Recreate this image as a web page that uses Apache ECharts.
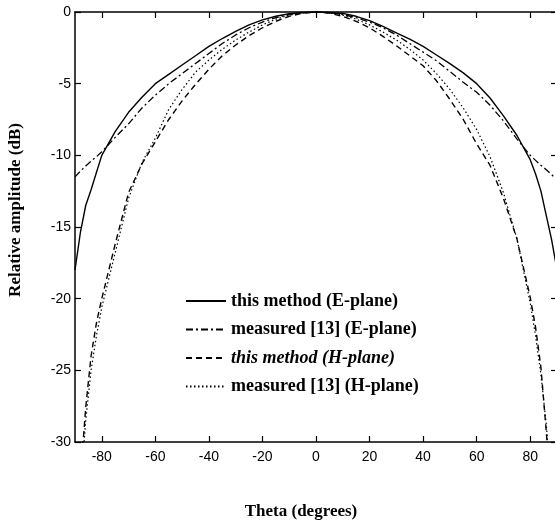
<!DOCTYPE html>
<html>
<head>
<meta charset="utf-8">
<title>Relative amplitude</title>
<script src="https://cdn.jsdelivr.net/npm/echarts@6/dist/echarts.min.js"></script>
<style>
  html, body { margin: 0; padding: 0; background: #fff; }
</style>
</head>
<body>
<div id="main" style="width: 555px;height: 524px"></div>
<script>
// theta (degrees)
var theta = [-90, -88, -86, -84, -82, -80, -75, -70, -65, -60, -55, -50, -45, -40, -35, -30, -25, -20, -15, -10, -5,
  0, 5, 10, 15, 20, 25, 30, 35, 40, 45, 50, 55, 60, 65, 70, 75, 80, 82, 84, 86, 88, 90];

// this method (E-plane)
var eMethod = [-18.0, -15.4, -13.5, -12.4, -11.2, -10.0, -8.35, -7.0, -5.95, -5.0, -4.35, -3.7, -3.05, -2.4, -1.85, -1.35, -0.9, -0.55, -0.3, -0.12, -0.03,
  0, -0.03, -0.1, -0.3, -0.6, -1.0, -1.45, -1.9, -2.4, -3.0, -3.6, -4.25, -5.0, -6.0, -7.25, -8.6, -10.3, -11.3, -12.5, -14.2, -15.9, -18.0];

// measured [13] (E-plane)
var eMeasured = [-11.5, -11.1, -10.75, -10.4, -10.1, -9.75, -8.75, -7.8, -6.7, -5.8, -5.0, -4.3, -3.6, -2.9, -2.2, -1.6, -1.1, -0.7, -0.4, -0.17, -0.04,
  0, -0.04, -0.17, -0.4, -0.7, -1.1, -1.6, -2.2, -2.8, -3.4, -4.15, -4.9, -5.6, -6.5, -7.6, -8.85, -10.0, -10.35, -10.7, -11.0, -11.35, -11.7];

// this method (H-plane)
var hMethod = [-38, -32.5, -27.6, -24.0, -21.7, -20.0, -16.2, -12.6, -10.6, -9.05, -7.5, -6.2, -5.05, -4.0, -3.05, -2.3, -1.65, -1.1, -0.65, -0.3, -0.08,
  0, -0.08, -0.3, -0.65, -1.1, -1.7, -2.35, -3.05, -3.75, -4.8, -6.1, -7.5, -9.2, -10.7, -13.0, -15.8, -19.9, -22.0, -24.8, -29.3, -34, -40];

// measured [13] (H-plane)
var hMeasured = [-40, -33.5, -28.5, -25.0, -22.6, -20.6, -16.8, -13.0, -10.5, -8.8, -6.8, -5.4, -4.2, -3.35, -2.6, -1.95, -1.4, -0.9, -0.5, -0.22, -0.06,
  0, -0.06, -0.22, -0.5, -0.9, -1.4, -1.95, -2.6, -3.35, -4.3, -5.4, -6.7, -8.2, -10.1, -12.6, -15.8, -20.3, -22.6, -25.3, -28.8, -33.5, -40];

var xTicks = [-80, -60, -40, -20, 0, 20, 40, 60, 80];

var names = ['this method (E-plane)', 'measured [13] (E-plane)', 'this method (H-plane)', 'measured [13] (H-plane)'];

function pairs(vals) {
  return theta.map(function (t, i) { return [t, vals[i]]; });
}

var serif = '"Liberation Serif", "Times New Roman", serif';
var sans = '"Liberation Sans", Arial, sans-serif';

let myChart = echarts.init(document.getElementById('main'));

let axisLine = { show: true, onZero: false, lineStyle: { color: '#000', width: 1.5 } };
let tick = { show: true, inside: true, length: 6, lineStyle: { color: '#000', width: 1.2 } };

let option = {
  backgroundColor: '#fff',
  animation: false,
  grid: {
    left: 75,
    top: 12,
    right: -2,
    bottom: 82,
    containLabel: false,
    outerBoundsMode: 'none'
  },
  legend: {
    orient: 'vertical',
    left: 185,
    top: 292,
    padding: 0,
    itemWidth: 40,
    itemHeight: 14,
    itemGap: 10.5,
    itemStyle: { opacity: 0 },
    textStyle: {
      fontFamily: serif,
      fontWeight: 'bold',
      fontSize: 18,
      color: '#000'
    },
    data: [
      { name: names[0] },
      { name: names[1] },
      { name: names[2], textStyle: { fontStyle: 'italic' } },
      { name: names[3] }
    ]
  },
  xAxis: [{
    type: 'value',
    min: -90,
    max: 90,
    position: 'bottom',
    name: 'Theta (degrees)',
    nameLocation: 'middle',
    nameGap: 61,
    nameTextStyle: {
      fontFamily: serif,
      fontWeight: 'bold',
      fontSize: 17,
      color: '#000',
      padding: [0, 30, 0, 0]
    },
    axisLine: axisLine,
    axisTick: Object.assign({ customValues: xTicks }, tick),
    axisLabel: { customValues: xTicks, margin: 8, fontFamily: sans, fontSize: 14, color: '#000' },
    splitLine: { show: false }
  }, {
    type: 'value',
    min: -90,
    max: 90,
    position: 'top',
    axisLine: axisLine,
    axisTick: Object.assign({ customValues: xTicks }, tick),
    axisLabel: { show: false },
    splitLine: { show: false }
  }],
  yAxis: [{
    type: 'value',
    min: -30,
    max: 0,
    interval: 5,
    position: 'left',
    name: 'Relative amplitude (dB)',
    nameLocation: 'middle',
    nameGap: 51,
    nameTextStyle: {
      fontFamily: serif,
      fontWeight: 'bold',
      fontSize: 17,
      color: '#000',
      padding: [0, 0, 0, 34]
    },
    axisLine: axisLine,
    axisTick: tick,
    axisLabel: { margin: 4, fontFamily: sans, fontSize: 14, color: '#000' },
    splitLine: { show: false }
  }, {
    type: 'value',
    min: -30,
    max: 0,
    interval: 5,
    position: 'right',
    axisLine: axisLine,
    axisTick: tick,
    axisLabel: { show: false },
    splitLine: { show: false }
  }],
  series: [
    {
      name: names[0],
      type: 'line',
      symbol: 'none',
      clip: true,
      lineStyle: { color: '#000', width: 1.4, type: 'solid' },
      itemStyle: { color: '#000' },
      data: pairs(eMethod)
    },
    {
      name: names[1],
      type: 'line',
      symbol: 'none',
      clip: true,
      lineStyle: { color: '#000', width: 1.3, type: [7, 3, 2, 3] },
      itemStyle: { color: '#000' },
      data: pairs(eMeasured)
    },
    {
      name: names[2],
      type: 'line',
      symbol: 'none',
      clip: true,
      lineStyle: { color: '#000', width: 1.4, type: [6, 4] },
      itemStyle: { color: '#000' },
      data: pairs(hMethod)
    },
    {
      name: names[3],
      type: 'line',
      symbol: 'none',
      clip: true,
      lineStyle: { color: '#000', width: 1.2, type: [1.5, 2.5] },
      itemStyle: { color: '#000' },
      data: pairs(hMeasured)
    }
  ]
};

myChart.setOption(option);

window.addEventListener('resize', function () {
  myChart.resize();
});
</script>
</body>
</html>
